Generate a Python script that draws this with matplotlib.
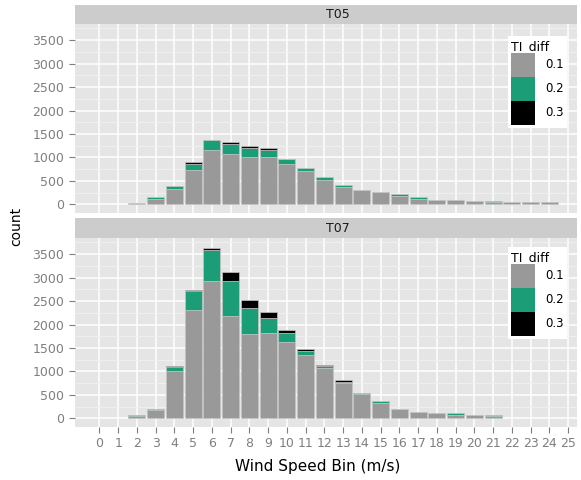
import matplotlib
matplotlib.use("Agg")
import matplotlib.pyplot as plt
from matplotlib.patches import Patch
import numpy as np

plt.rcParams['font.family'] = ['DejaVu Sans']

# ---------------- data ----------------
bins = list(range(0, 26))
tick_labels = [str(b) for b in bins]
levels = ["0.1", "0.2", "0.3"]
level_colors = ["#999999", "#1B9E77", "#000000"]

#            0  1   2    3    4    5     6     7     8     9    10   11   12   13   14   15   16   17   18   19  20  21  22  23  24  25
t05_01 = [0, 0, 36, 121, 329, 743, 1157, 1071, 1020, 1010, 871, 721, 514, 364, 307, 257, 179, 121, 100, 100, 71, 45, 50, 50, 50, 0]
t05_02 = [0, 0, 0, 36, 71, 128, 222, 215, 179, 150, 93, 65, 60, 60, 0, 0, 35, 36, 0, 0, 0, 25, 0, 0, 0, 0]
t05_03 = [0, 0, 0, 0, 0, 36, 0, 35, 36, 36, 0, 0, 0, 0, 0, 0, 0, 0, 0, 0, 0, 0, 0, 0, 0, 0]

t07_01 = [0, 0, 45, 180, 1014, 2317, 2936, 2176, 1803, 1824, 1627, 1359, 1070, 747, 514, 338, 190, 141, 106, 80, 78, 50, 0, 0, 0, 0]
t07_02 = [0, 0, 25, 30, 77, 387, 641, 760, 556, 323, 197, 84, 42, 35, 30, 28, 0, 0, 0, 25, 0, 20, 0, 0, 0, 0]
t07_03 = [0, 0, 0, 0, 35, 28, 63, 183, 169, 120, 63, 28, 21, 28, 0, 0, 0, 0, 0, 0, 0, 0, 0, 0, 0, 0]

panels = [("T05", [t05_01, t05_02, t05_03]), ("T07", [t07_01, t07_02, t07_03])]
y_major = [0, 500, 1000, 1500, 2000, 2500, 3000, 3500]
y_minor = [250, 750, 1250, 1750, 2250, 2750, 3250, 3750]

# ---------------- layout ----------------
W, H = 581, 480
fig = plt.figure(figsize=(W / 100, H / 100), dpi=100)


def rect(x0, y0, x1, y1):
    # pixel coords (top-left origin) -> figure fraction
    return [x0 / W, 1 - y1 / H, (x1 - x0) / W, (y1 - y0) / H]


PL, PR = 75, 577
layout = [  # strip top, strip bottom/panel top, panel bottom, legend top
    (5, 24, 213, 36),
    (218, 238, 427, 247),
]

grey50 = "#7F7F7F"
for i, ((name, series), (s0, s1, p1, lt)) in enumerate(zip(panels, layout)):
    # strip
    sax = fig.add_axes(rect(PL, s0, PR, s1))
    sax.set_facecolor("#CCCCCC")
    sax.set_xticks([]); sax.set_yticks([])
    for sp in sax.spines.values():
        sp.set_visible(False)
    fig.text(338 / W, 1 - ((s0 + s1) / 2) / H, name, ha="center", va="center",
             fontsize=9, color="#1A1A1A")

    ax = fig.add_axes(rect(PL, s1, PR, p1))
    ax.set_facecolor("#E5E5E5")
    for sp in ax.spines.values():
        sp.set_visible(False)
    ax.set_xlim(-1.3, 25.47)
    ax.set_ylim(-183, 3843)
    ax.set_axisbelow(True)
    ax.set_yticks(y_major)
    ax.set_yticks(y_minor, minor=True)
    ax.set_xticks(bins)
    ax.grid(True, which="major", color="white", linewidth=1.1)
    ax.grid(True, which="minor", axis="y", color="#F2F2F2", linewidth=0.6)
    ax.tick_params(axis="y", which="major", length=4.25, width=0.8, color=grey50,
                   labelcolor=grey50, labelsize=9, pad=3.5)
    ax.tick_params(axis="y", which="minor", length=0)
    if i == 0:
        ax.tick_params(axis="x", which="both", length=0, labelbottom=False)
    else:
        ax.set_xticklabels(tick_labels)
        ax.tick_params(axis="x", which="major", length=4.25, width=0.8, color=grey50,
                       labelcolor=grey50, labelsize=9, pad=3)
    ax.tick_params(axis="x", which="minor", length=0)

    bottom = np.zeros(len(bins))
    xs = np.array(bins)
    for vals, col in zip(series, level_colors):
        v = np.array(vals, dtype=float)
        m = v > 0
        ax.bar(xs[m], v[m], bottom=bottom[m], width=0.9, color=col,
               edgecolor="#C4C4C4", linewidth=0.5, zorder=3)
        bottom += v

    handles = [Patch(facecolor=c, edgecolor="none") for c in level_colors]
    leg = fig.legend(handles, levels, title="TI_diff", loc="upper right",
                     bbox_to_anchor=(567 / W, 1 - lt / H),
                     bbox_transform=fig.transFigure,
                     fontsize=8.5, title_fontsize=9,
                     handlelength=2.05, handleheight=2.75, labelspacing=0,
                     handletextpad=0.8, borderpad=0.3, borderaxespad=0,
                     frameon=True, fancybox=False, framealpha=1,
                     alignment="left")
    leg.get_frame().set_facecolor("white")
    leg.get_frame().set_edgecolor("none")

fig.text(16 / W, 1 - 226 / H, "count", rotation=90, ha="center", va="center",
         fontsize=10, color="black")
fig.text(318 / W, 1 - 467 / H, "Wind Speed Bin (m/s)", ha="center", va="center",
         fontsize=11, color="black")

fig.savefig("out.png", dpi=100)
